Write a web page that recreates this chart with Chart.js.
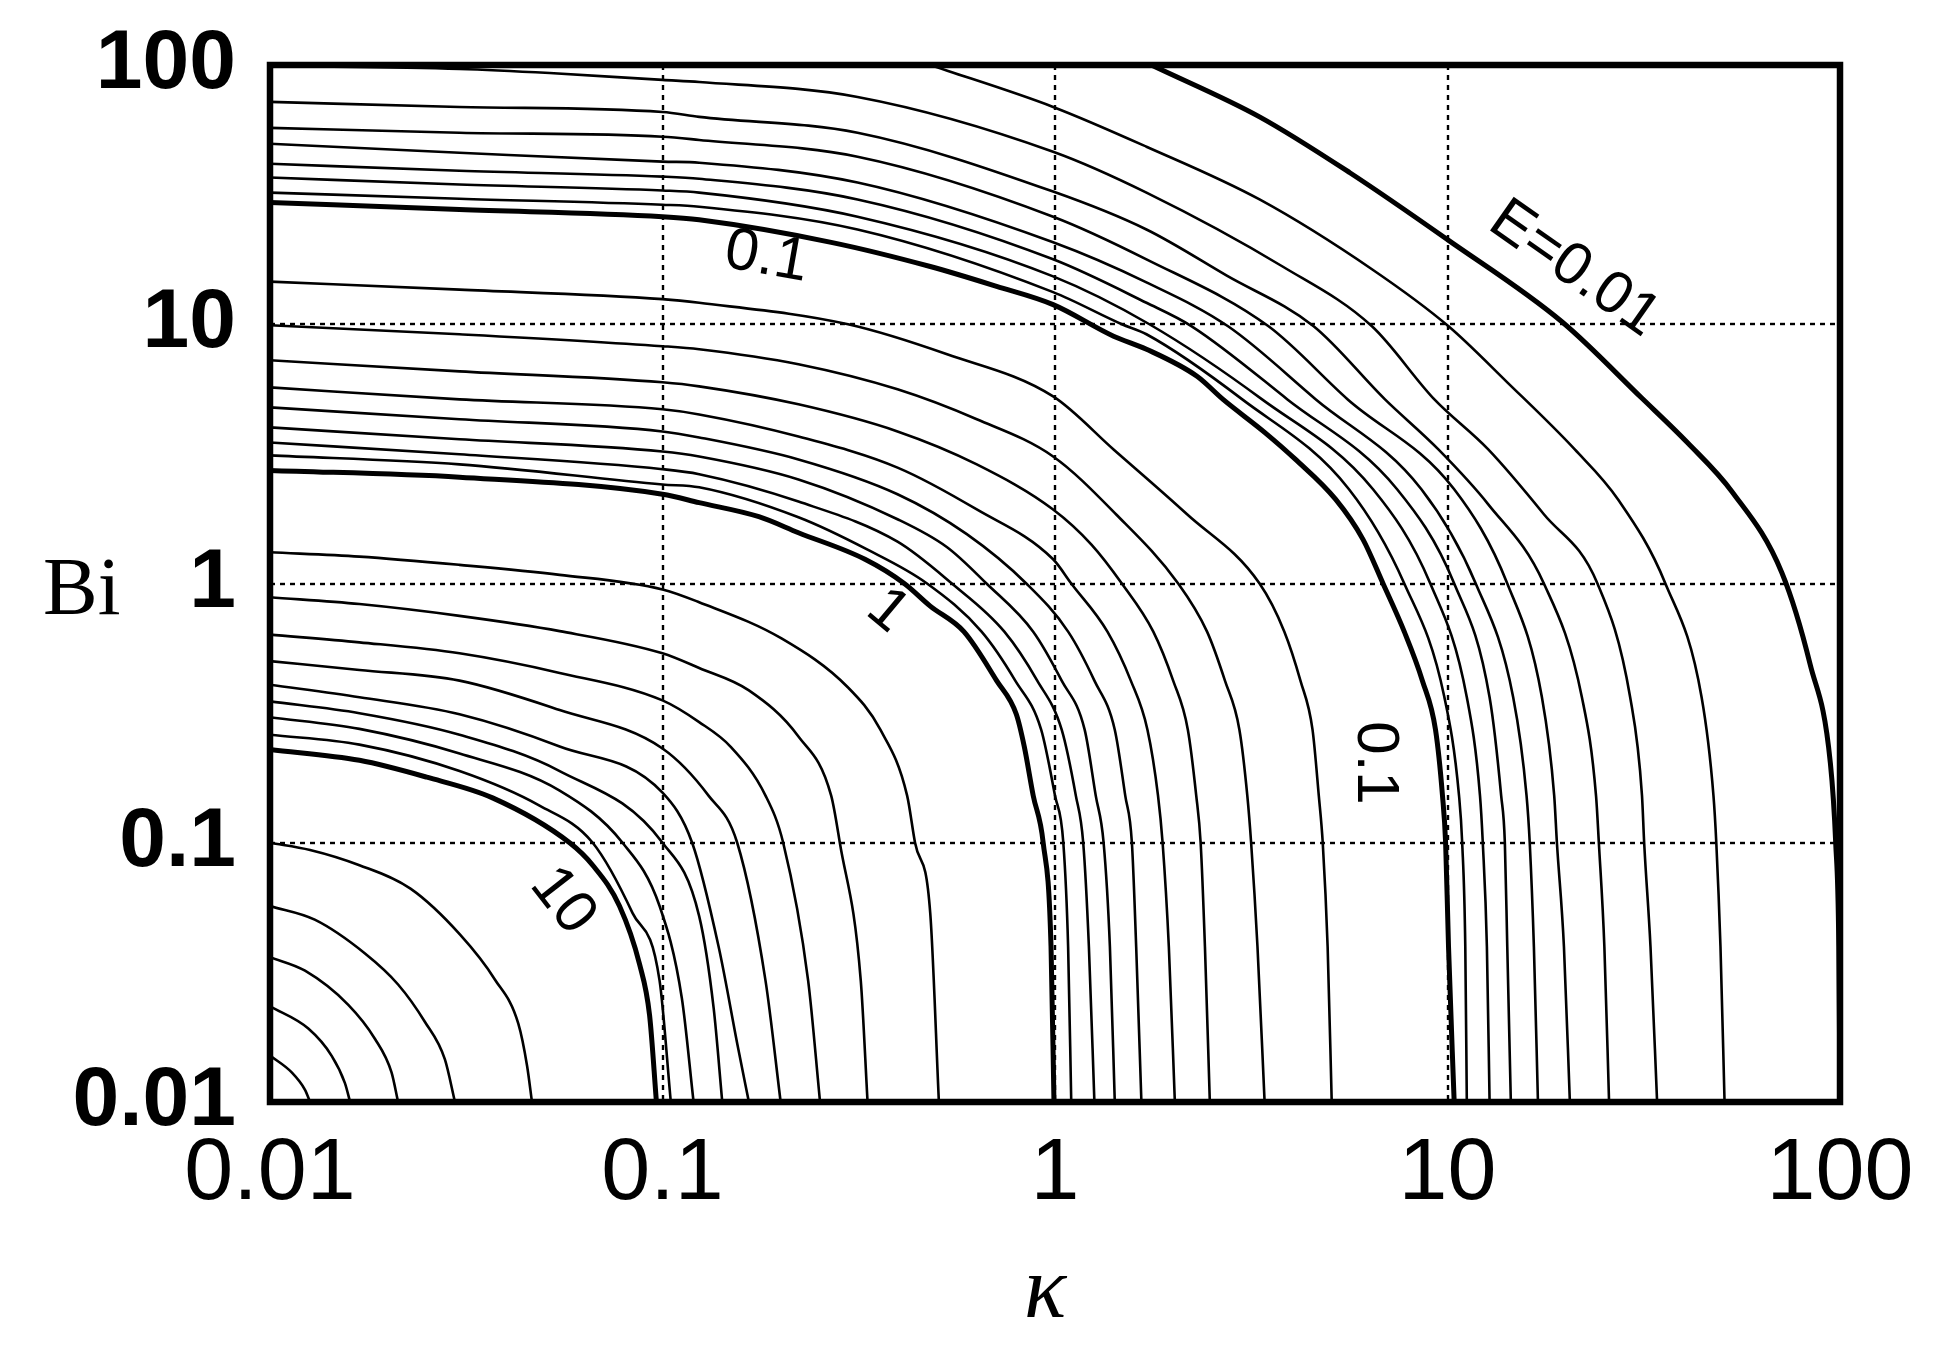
<!DOCTYPE html>
<html>
<head>
<meta charset="utf-8">
<script src="https://cdn.jsdelivr.net/npm/chart.js@4.4.1/dist/chart.umd.min.js"></script>
<style>
html,body{margin:0;padding:0;background:#fff;}
canvas{display:block;}
</style>
</head>
<body>
<canvas id="c" width="1944" height="1360" style="width:1944px;height:1360px"></canvas>
<script>
// ---- axis ticks / titles ----
const xTickValues = [0.01, 0.1, 1, 10, 100];
const xTickLabels = ['0.01', '0.1', '1', '10', '100'];
const yTickValues = [0.01, 0.1, 1, 10, 100];
const yTickLabels = ['0.01', '0.1', '1', '10', '100'];
const xTitle = 'κ';
const yTitle = 'Bi';

// ---- contour lines of E: [kappa, Bi] points ----
const E0_01 = [[1.76,100],[3.32,63.1],[5.64,38.4],[10,21.2],[19.6,10.2],[31.3,5.18],[40.9,3.49],[53.2,2.25],[71.1,1.1],[84,0.485],[94.5,0.203],[97.5,0.1],[99.3,0.04],[100,0.01]];
const E0_02 = [[0.481,100],[0.989,68.9],[1.71,48.4],[3.32,30.3],[6.42,16.3],[10.06,9.82],[14.2,5.97],[21.1,3.29],[27.2,2.11],[35.9,1],[44.4,0.364],[47.6,0.152],[48.4,0.1],[49.6,0.0397],[50.8,0.01]];
const E0_03 = [[0.01,99.1],[0.0304,96.5],[0.0516,93.1],[0.1,87.6],[0.124,86],[0.314,75.3],[0.989,46.3],[1.71,32.2],[3.8,16.7],[6.42,9.82],[9.26,5.13],[12.7,3.29],[17.6,1.85],[24.1,1],[29.2,0.364],[31.3,0.152],[31.7,0.1],[32.9,0.0397],[34.2,0.01]];
const E0_04 = [[0.01,72.1],[0.0304,68.9],[0.1,65.9],[0.124,63.1],[0.314,54.8],[0.989,32.5],[1.71,23.2],[2.74,15.4],[4.56,9.82],[6.93,5.13],[9.48,3.29],[12.7,2.02],[17.6,1],[22,0.364],[23.9,0.152],[24.3,0.1],[25.1,0.0397],[25.8,0.01]];
const E0_05 = [[0.01,57.2],[0.0304,54.8],[0.1,52.9],[0.124,51.4],[0.314,44.3],[0.989,26],[1.71,17.8],[3.5,9.82],[5.57,5.13],[10.4,2.31],[14.2,1],[17.4,0.364],[18.7,0.152],[19,0.1],[19.8,0.0397],[20.5,0.01]];
const E0_06 = [[0.01,49.7],[0.0304,45.9],[0.1,42.4],[0.124,42],[0.314,35.2],[0.989,20.7],[1.71,14.5],[2.76,9.82],[4.62,5.13],[8.58,2.31],[11.8,1],[14.7,0.364],[15.9,0.152],[16.2,0.1],[16.6,0.0397],[17,0.01]];
const E0_07 = [[0.01,41.6],[0.0304,39.1],[0.1,37.1],[0.124,36.4],[0.314,30.3],[0.989,17.8],[1.71,12.1],[2.23,9.82],[3.91,5.13],[7.44,2.31],[10.4,1],[12.8,0.364],[13.7,0.152],[14,0.1],[14.2,0.0397],[14.5,0.01]];
const E0_08 = [[0.01,36.8],[0.0304,34.6],[0.1,32.8],[0.124,32.2],[0.314,26],[0.989,15.3],[1.74,10],[3.37,5.13],[6.46,2.31],[9.04,1],[11.2,0.364],[12.1,0.152],[12.3,0.1],[12.6,0.0397],[12.8,0.01]];
const E0_09 = [[0.01,32.2],[0.0304,30.5],[0.1,28.9],[0.124,28.4],[0.314,23.2],[0.989,13.3],[1.48,10],[1.71,9.15],[3,5.13],[5.61,2.31],[7.76,1],[9.82,0.364],[10.7,0.152],[10.9,0.1],[11.1,0.0397],[11.2,0.01]];
const E0_1  = [[0.01,29.5],[0.0304,27.7],[0.1,26],[0.124,25.3],[0.269,20.7],[0.481,16.7],[0.71,14],[0.989,11.9],[1.41,8.99],[1.71,8.01],[2.3,6.3],[2.68,5.13],[3.42,3.83],[4.1,3.01],[5.19,2.11],[6.09,1.48],[6.85,1],[7.76,0.652],[8.63,0.422],[9.32,0.273],[9.71,0.152],[9.89,0.1],[10.06,0.0397],[10.4,0.01]];
const E0_2  = [[0.01,14.6],[0.0304,13.6],[0.1,12.5],[0.124,12.1],[0.297,10],[0.531,7.66],[0.989,5.27],[1.41,3.29],[2.17,1.85],[3.32,1],[3.84,0.652],[4.22,0.422],[4.53,0.273],[4.7,0.152],[4.81,0.1],[4.95,0.0397],[5.07,0.01]];
const E0_3  = [[0.01,9.91],[0.0304,9.15],[0.1,8.23],[0.124,8.01],[0.222,7.01],[0.397,5.61],[0.632,4.3],[0.989,3.09],[1.43,1.85],[2.06,1],[2.44,0.652],[2.71,0.422],[2.95,0.273],[3.09,0.152],[3.16,0.1],[3.28,0.0397],[3.42,0.01]];
const E0_4  = [[0.01,7.26],[0.0304,6.58],[0.1,5.97],[0.124,5.76],[0.222,4.91],[0.397,3.86],[0.632,2.88],[0.989,1.93],[1.24,1.41],[1.48,1],[1.78,0.652],[2.0,0.422],[2.18,0.273],[2.29,0.152],[2.35,0.1],[2.41,0.0397],[2.48,0.01]];
const E0_5  = [[0.01,5.71],[0.0304,5.13],[0.1,4.7],[0.124,4.49],[0.222,3.69],[0.397,2.8],[0.632,1.93],[0.989,1.24],[1.1,1],[1.36,0.652],[1.56,0.422],[1.72,0.273],[1.83,0.152],[1.88,0.1],[1.95,0.0397],[2.02,0.01]];
const E0_6  = [[0.01,4.78],[0.0304,4.3],[0.1,3.86],[0.124,3.66],[0.222,3.01],[0.397,2.21],[0.596,1.55],[0.845,1],[1.08,0.652],[1.26,0.422],[1.42,0.273],[1.51,0.152],[1.57,0.1],[1.61,0.0397],[1.66,0.01]];
const E0_7  = [[0.01,4],[0.0304,3.6],[0.1,3.23],[0.124,3.09],[0.222,2.52],[0.397,1.77],[0.531,1.38],[0.669,1],[0.88,0.652],[1.04,0.422],[1.19,0.273],[1.27,0.152],[1.33,0.1],[1.38,0.0397],[1.42,0.01]];
const E0_8  = [[0.01,3.5],[0.0304,3.15],[0.1,2.76],[0.124,2.64],[0.222,2.07],[0.397,1.45],[0.546,1],[0.743,0.652],[0.901,0.422],[1.04,0.273],[1.13,0.152],[1.18,0.1],[1.22,0.0397],[1.26,0.01]];
const E0_9  = [[0.01,3.12],[0.0304,2.88],[0.1,2.41],[0.124,2.35],[0.222,1.8],[0.333,1.35],[0.472,1],[0.65,0.652],[0.792,0.422],[0.922,0.273],[1.0,0.152],[1.05,0.1],[1.08,0.0397],[1.1,0.01]];
const E1    = [[0.01,2.73],[0.0304,2.57],[0.1,2.21],[0.124,2.05],[0.176,1.81],[0.222,1.57],[0.328,1.24],[0.413,1],[0.481,0.818],[0.586,0.652],[0.71,0.422],[0.797,0.313],[0.835,0.235],[0.88,0.152],[0.933,0.1],[0.977,0.0397],[0.994,0.01]];
const E2    = [[0.01,1.32],[0.0169,1.27],[0.0304,1.18],[0.0547,1.08],[0.1,0.949],[0.124,0.847],[0.201,0.614],[0.297,0.397],[0.359,0.273],[0.42,0.152],[0.44,0.1],[0.481,0.0535],[0.506,0.01]];
const E3    = [[0.01,0.885],[0.0169,0.833],[0.0304,0.75],[0.0547,0.655],[0.1,0.538],[0.124,0.472],[0.166,0.387],[0.222,0.257],[0.269,0.152],[0.283,0.1],[0.32,0.0294],[0.333,0.01]];
const E4    = [[0.01,0.635],[0.0169,0.593],[0.0304,0.538],[0.0547,0.452],[0.1,0.354],[0.124,0.292],[0.149,0.235],[0.183,0.152],[0.203,0.1],[0.235,0.0294],[0.252,0.01]];
const E5    = [[0.01,0.502],[0.0169,0.464],[0.0304,0.422],[0.0547,0.325],[0.1,0.231],[0.131,0.152],[0.155,0.1],[0.183,0.0294],[0.2,0.01]];
const E6    = [[0.01,0.407],[0.0169,0.364],[0.0304,0.313],[0.0547,0.235],[0.1,0.156],[0.119,0.1],[0.139,0.0397],[0.156,0.016],[0.166,0.01]];
const E7    = [[0.01,0.351],[0.0169,0.316],[0.0304,0.261],[0.0547,0.189],[0.1,0.1],[0.124,0.0521],[0.135,0.023],[0.142,0.01]];
const E8    = [[0.01,0.305],[0.0169,0.275],[0.0304,0.221],[0.0547,0.159],[0.0791,0.1],[0.0983,0.057],[0.112,0.0252],[0.12,0.01]];
const E9    = [[0.01,0.261],[0.0169,0.239],[0.0304,0.189],[0.0486,0.139],[0.0664,0.1],[0.0839,0.0535],[0.0983,0.0294],[0.105,0.01]];
const E10   = [[0.01,0.229],[0.0169,0.208],[0.0251,0.179],[0.0369,0.149],[0.058,0.1],[0.0664,0.0819],[0.0777,0.057],[0.0874,0.034],[0.0927,0.0216],[0.0965,0.01]];
const E20   = [[0.01,0.1],[0.01265,0.0938],[0.0169,0.0819],[0.0228,0.0665],[0.0305,0.0442],[0.0374,0.0297],[0.0429,0.0201],[0.0452,0.01374],[0.0465,0.01]];
const E30   = [[0.01,0.057],[0.013,0.0505],[0.01746,0.0374],[0.0212,0.0284],[0.0248,0.0204],[0.0279,0.0146],[0.0296,0.01]];
const E40   = [[0.01,0.0362],[0.01228,0.0321],[0.01583,0.0237],[0.0185,0.01754],[0.0204,0.013],[0.0212,0.01]];
const E50   = [[0.01,0.0234],[0.01252,0.0192],[0.01436,0.01507],[0.01552,0.01183],[0.016,0.01]];
const E60   = [[0.01,0.0151],[0.01136,0.013],[0.01228,0.01114],[0.01265,0.01]];

const levelValues = [0.01,0.02,0.03,0.04,0.05,0.06,0.07,0.08,0.09,0.1,0.2,0.3,0.4,0.5,0.6,0.7,0.8,0.9,1,2,3,4,5,6,7,8,9,10,20,30,40,50,60];
const contourSeries = [E0_01,E0_02,E0_03,E0_04,E0_05,E0_06,E0_07,E0_08,E0_09,E0_1,E0_2,E0_3,E0_4,E0_5,E0_6,E0_7,E0_8,E0_9,E1,E2,E3,E4,E5,E6,E7,E8,E9,E10,E20,E30,E40,E50,E60];
const thickLevels = [0.01, 0.1, 1, 10];

// in-plot contour labels (anchored in data coordinates)
const contourLabelText  = ['0.1', 'E=0.01', '1', '10', '0.1'];
const contourLabelKappa = [0.184, 21.0, 0.374, 0.0556, 6.5];
const contourLabelBi    = [18.1, 16.3, 0.783, 0.0596, 0.203];
const contourLabelAngle = [10, 35, 40, 52, 90];

const datasets = contourSeries.map((pts, i) => ({
  label: 'E=' + levelValues[i],
  data: pts.map(p => ({x: p[0], y: p[1]})),
  showLine: true,
  pointRadius: 0,
  pointHoverRadius: 0,
  borderColor: '#000',
  borderWidth: thickLevels.includes(levelValues[i]) ? 5 : 2.6,
  cubicInterpolationMode: 'monotone',
  fill: false
}));

function tickLabel(values, labels, v) {
  for (let i = 0; i < values.length; i++) {
    if (Math.abs(Math.log10(values[i]) - Math.log10(v)) < 1e-6) return labels[i];
  }
  return '';
}

const gridPlugin = {
  id: 'dottedGrid',
  beforeDatasetsDraw(chart) {
    const {ctx, chartArea: a, scales: {x, y}} = chart;
    ctx.save();
    ctx.strokeStyle = '#000';
    ctx.lineWidth = 2.4;
    ctx.setLineDash([5, 5]);
    xTickValues.slice(1, -1).forEach(v => {
      const px = Math.round(x.getPixelForValue(v));
      ctx.beginPath(); ctx.moveTo(px, a.top); ctx.lineTo(px, a.bottom); ctx.stroke();
    });
    yTickValues.slice(1, -1).forEach(v => {
      const py = Math.round(y.getPixelForValue(v));
      ctx.beginPath(); ctx.moveTo(a.left, py); ctx.lineTo(a.right, py); ctx.stroke();
    });
    ctx.restore();
  }
};

const framePlugin = {
  id: 'frameAndText',
  afterDatasetsDraw(chart) {
    const {ctx, chartArea: a, scales: {x, y}} = chart;
    ctx.save();
    ctx.strokeStyle = '#000';
    ctx.lineWidth = 6.5;
    ctx.setLineDash([]);
    ctx.strokeRect(a.left, a.top, a.right - a.left, a.bottom - a.top);

    // contour labels
    ctx.fillStyle = '#000';
    ctx.textAlign = 'center';
    ctx.textBaseline = 'middle';
    for (let i = 0; i < contourLabelText.length; i++) {
      const px = x.getPixelForValue(contourLabelKappa[i]);
      const py = y.getPixelForValue(contourLabelBi[i]);
      ctx.save();
      ctx.translate(px, py);
      ctx.rotate(contourLabelAngle[i] * Math.PI / 180);
      ctx.font = '60px "Liberation Sans", Arial, sans-serif';
      ctx.fillText(contourLabelText[i], 0, 0);
      ctx.restore();
    }

    // axis titles
    ctx.textBaseline = 'alphabetic';
    ctx.textAlign = 'left';
    ctx.font = '82px "Liberation Serif", "Times New Roman", serif';
    ctx.fillText(yTitle, a.left - 227, y.getPixelForValue(1) + 30);
    ctx.textAlign = 'center';
    ctx.font = 'italic 88px "Liberation Serif", "Times New Roman", serif';
    ctx.fillText(xTitle, (a.left + a.right) / 2 - 10, a.bottom + 215);
    ctx.restore();
  }
};

new Chart(document.getElementById('c'), {
  type: 'scatter',
  data: {datasets},
  options: {
    responsive: false,
    animation: false,
    devicePixelRatio: 1,
    layout: {padding: {left: 0, right: 104, top: 65, bottom: 0}},
    plugins: {legend: {display: false}, tooltip: {enabled: false}},
    events: [],
    scales: {
      x: {
        type: 'logarithmic',
        position: 'bottom',
        min: 0.01, max: 100,
        afterBuildTicks: s => { s.ticks = xTickValues.map(v => ({value: v})); },
        afterFit: s => { s.height = 258; s.paddingLeft = 0; s.paddingRight = 0; },
        ticks: {
          callback: v => tickLabel(xTickValues, xTickLabels, v),
          font: {family: '"Liberation Sans Narrow", "Arial Narrow", "Liberation Sans", Arial, sans-serif', size: 88},
          color: '#000', padding: 20, maxRotation: 0, minRotation: 0, autoSkip: false
        },
        grid: {display: false, drawTicks: false},
        border: {display: false}
      },
      y: {
        type: 'logarithmic',
        position: 'left',
        min: 0.01, max: 100,
        afterBuildTicks: s => { s.ticks = yTickValues.map(v => ({value: v})); },
        afterFit: s => { s.width = 270; s.paddingTop = 0; s.paddingBottom = 0; },
        ticks: {
          callback: v => tickLabel(yTickValues, yTickLabels, v),
          font: {family: '"Liberation Sans", Arial, sans-serif', size: 84, weight: 'bold'},
          color: '#000', padding: 34, autoSkip: false
        },
        grid: {display: false, drawTicks: false},
        border: {display: false}
      }
    }
  },
  plugins: [gridPlugin, framePlugin]
});
</script>
</body>
</html>
